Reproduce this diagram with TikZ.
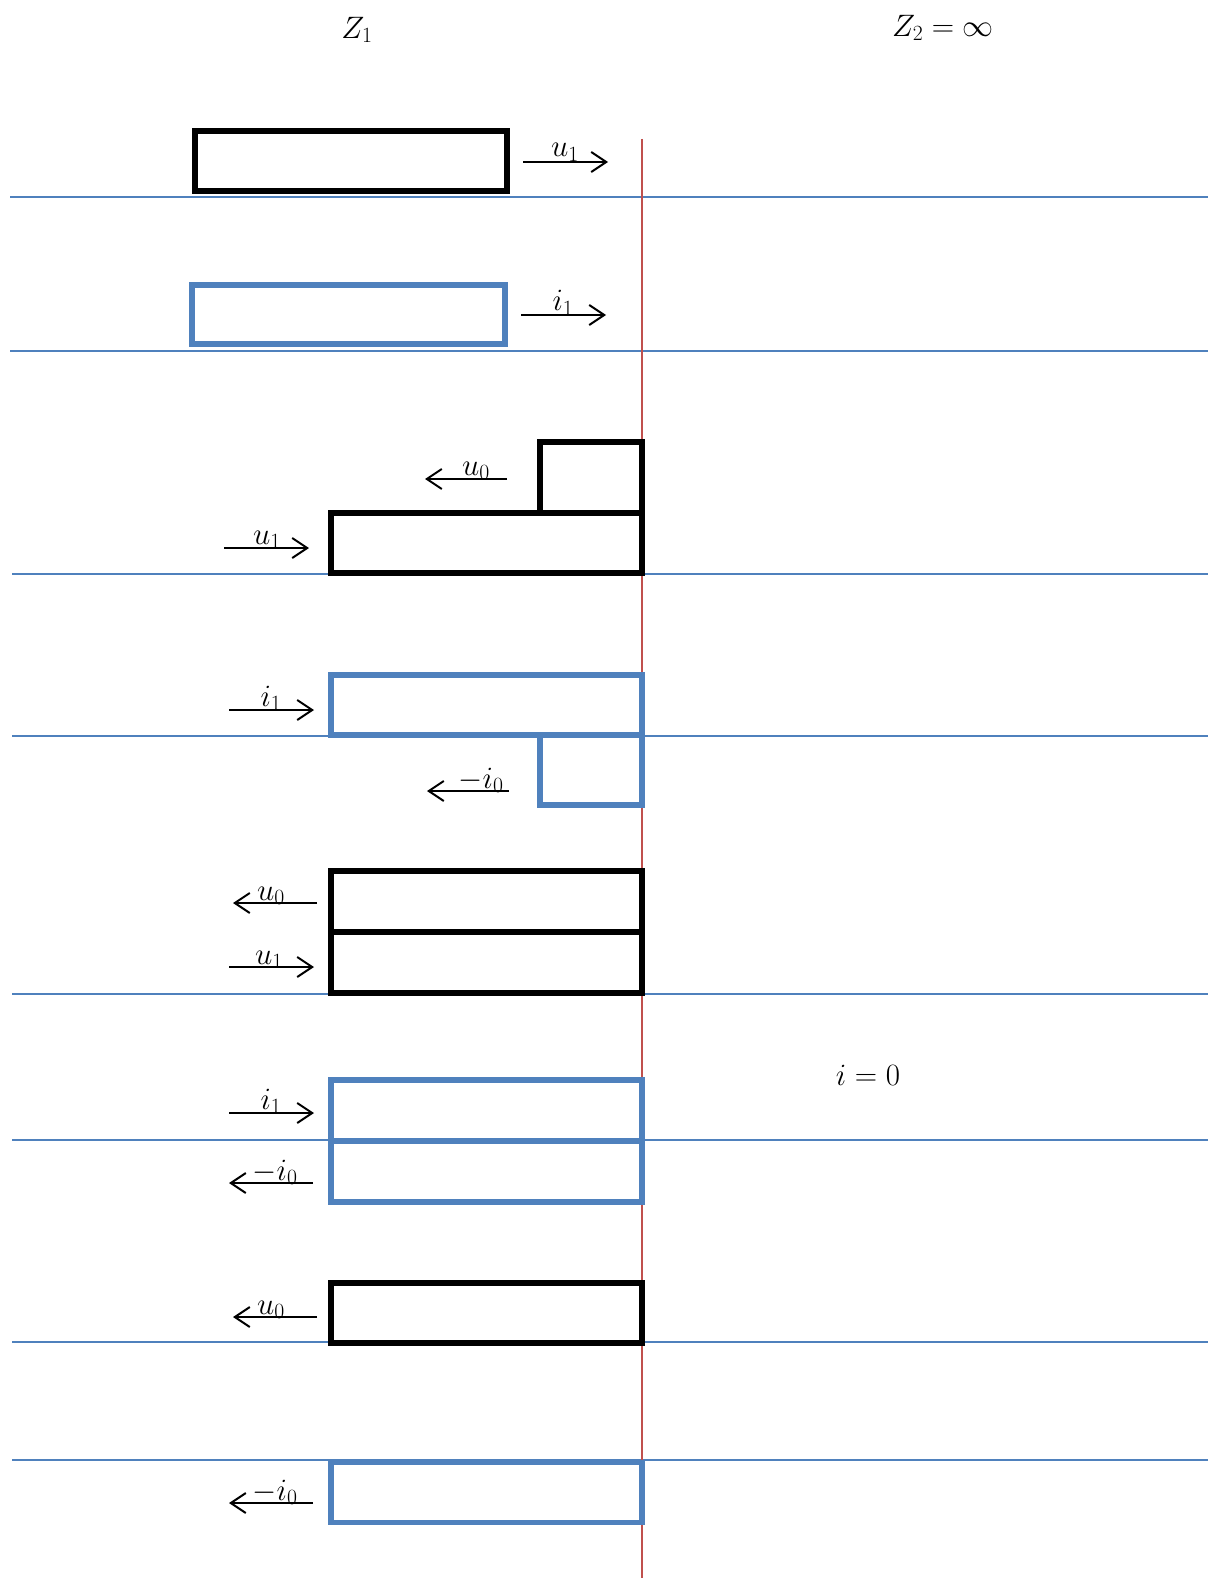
\RequirePackage{fix-cm}
\documentclass[tikz,border=0pt]{standalone}
\usetikzlibrary{arrows.meta}
\definecolor{lblue}{HTML}{4F81BD}
\definecolor{lred}{HTML}{C0504D}
\begin{document}
\begin{tikzpicture}[x=1pt,y=-1pt,font=\fontsize{31}{36}\selectfont,
  guide/.style={draw=lblue,line width=1.5pt},
  axis/.style={draw=lred,line width=1.8pt},
  ubox/.style={draw=black,line width=6pt,inner sep=0pt,fill=none},
  ibox/.style={draw=lblue,line width=5.5pt,inner sep=0pt,fill=none},
  flow/.style={line width=2pt,-{Straight Barb[length=15pt,width=20pt]}},
  lab/.style={inner sep=0pt,anchor=base},
  head/.style={inner sep=0pt}]
\useasboundingbox (0,0) rectangle (1208,1578);
% guide lines
\foreach \n/\y/\x in {1/197/10,2/351/10,3/574/12,4/736/12,5/994/12,6/1140/12,7/1342/12,8/1460/12}{
  \coordinate (g\n l) at (\x,\y);
  \coordinate (g\n r) at (1208,\y);
  \draw[guide] (g\n l) -- (g\n r);
}
\coordinate (rt) at (642,139);
\coordinate (rb) at (642,1578);
\draw[axis] (rt) -- (rb);
% headings
\node[head] (z1) at (357,30) {$Z_1$};
\node[head] (z2) at (943,28) {$Z_2=\infty$};
\node[head] (izero) at (868,1075) {$i=0$};
% row 1
\node[ubox,minimum width=312pt,minimum height=60pt] (b1) at (351,161) {};
\coordinate (a1s) at (523,162); \coordinate (a1e) at (608,162);
\draw[flow] (a1s) -- (a1e);
\node[lab] (l1) at (565,157) {$u_1$};
% row 2
\node[ibox,minimum width=313pt,minimum height=59pt] (b2) at (348.5,314.5) {};
\coordinate (a2s) at (521,315); \coordinate (a2e) at (606,315);
\draw[flow] (a2s) -- (a2e);
\node[lab] (l2) at (563,311) {$i_1$};
% row 3
\node[ubox,minimum width=102pt,minimum height=71pt] (b3s) at (591,477) {};
\node[ubox,minimum width=311pt,minimum height=60pt] (b3) at (486.5,543) {};
\coordinate (a3s) at (507,479); \coordinate (a3e) at (425,479);
\draw[flow] (a3s) -- (a3e);
\node[lab] (l3) at (476,475) {$u_0$};
\coordinate (a3bs) at (224,548); \coordinate (a3be) at (309,548);
\draw[flow] (a3bs) -- (a3be);
\node[lab] (l3b) at (267,544) {$u_1$};
% row 4
\node[ibox,minimum width=311pt,minimum height=60pt] (b4) at (486.5,705) {};
\node[ibox,minimum width=102pt,minimum height=70pt] (b4s) at (591,770) {};
\coordinate (a4s) at (229,710); \coordinate (a4e) at (314,710);
\draw[flow] (a4s) -- (a4e);
\node[lab] (l4) at (271,706) {$i_1$};
\coordinate (a4bs) at (509,791); \coordinate (a4be) at (427,791);
\draw[flow] (a4bs) -- (a4be);
\node[lab] (l4b) at (481,788) {$-i_0$};
% row 5
\node[ubox,minimum width=311pt,minimum height=61pt] (b5a) at (486.5,901.5) {};
\node[ubox,minimum width=311pt,minimum height=61pt] (b5b) at (486.5,962.5) {};
\coordinate (a5s) at (317,903); \coordinate (a5e) at (233,903);
\draw[flow] (a5s) -- (a5e);
\node[lab] (l5) at (271,900) {$u_0$};
\coordinate (a5bs) at (229,967); \coordinate (a5be) at (314,967);
\draw[flow] (a5bs) -- (a5be);
\node[lab] (l5b) at (269,964) {$u_1$};
% row 6
\node[ibox,minimum width=311pt,minimum height=61pt] (b6a) at (486.5,1110.5) {};
\node[ibox,minimum width=311pt,minimum height=61pt] (b6b) at (486.5,1171.5) {};
\coordinate (a6s) at (229,1113); \coordinate (a6e) at (314,1113);
\draw[flow] (a6s) -- (a6e);
\node[lab] (l6) at (271,1109) {$i_1$};
\coordinate (a6bs) at (313,1183); \coordinate (a6be) at (229,1183);
\draw[flow] (a6bs) -- (a6be);
\node[lab] (l6b) at (275,1180) {$-i_0$};
% row 7
\node[ubox,minimum width=311pt,minimum height=60pt] (b7) at (486.5,1312.5) {};
\coordinate (a7s) at (317,1317); \coordinate (a7e) at (233,1317);
\draw[flow] (a7s) -- (a7e);
\node[lab] (l7) at (271,1314) {$u_0$};
% row 8
\node[ibox,minimum width=311pt,minimum height=60pt] (b8) at (486.5,1492.5) {};
\coordinate (a8s) at (313,1503); \coordinate (a8e) at (229,1503);
\draw[flow] (a8s) -- (a8e);
\node[lab] (l8) at (275,1500) {$-i_0$};
\end{tikzpicture}
\end{document}
